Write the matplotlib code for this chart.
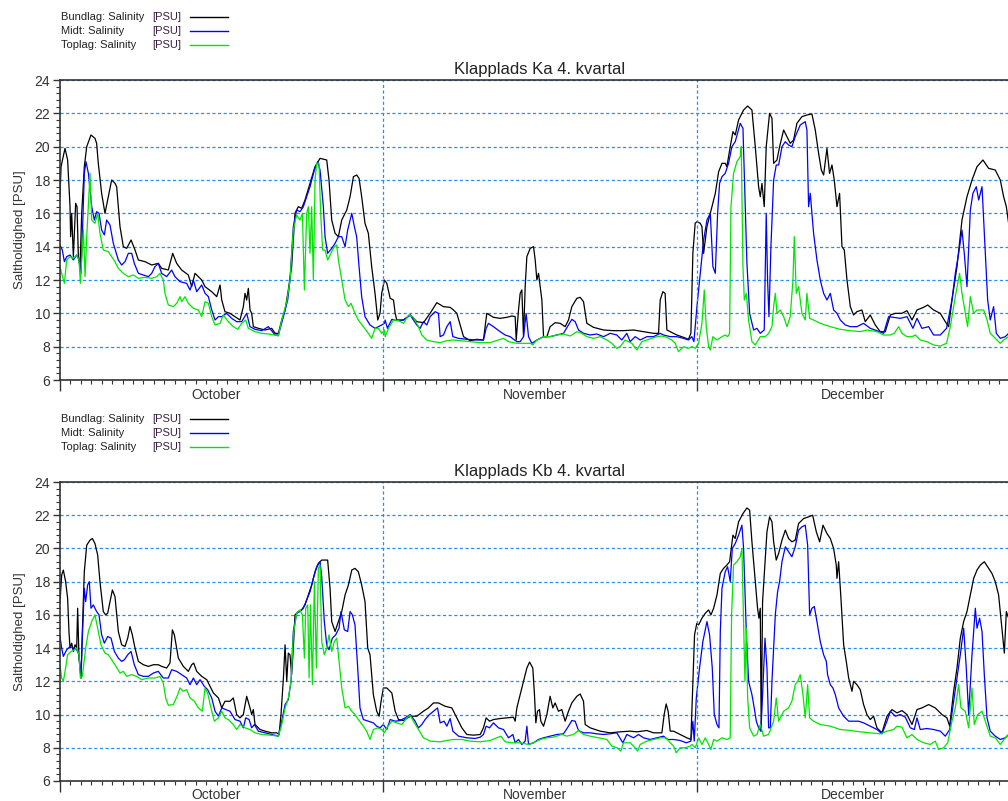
import numpy as np
import matplotlib
matplotlib.use("Agg")
import matplotlib.pyplot as plt
from matplotlib.lines import Line2D
from matplotlib.ticker import MultipleLocator, FixedLocator

plt.rcParams['font.family'] = ['Liberation Sans', 'DejaVu Sans']

# ---------- Data: (days since 1 Oct, salinity PSU) ----------
ka_bund = [(0.0,17.0),(0.10,18.8),(0.48,19.9),(0.73,19.2),(0.96,16.4),(1.02,14.6),(1.12,16.0),(1.28,13.4),(1.50,16.6),(1.63,16.4),(1.76,13.4),(1.92,12.8),(2.08,16.0),(2.33,18.8),(2.56,20.0),(2.97,20.7),(3.35,20.5),(3.51,20.2),(3.67,19.0),(3.99,17.2),(4.31,16.0),(4.63,17.0),(4.95,18.0),(5.27,17.8),(5.43,17.6),(5.75,15.2),(6.07,14.0),(6.39,13.9),(6.81,14.4),(7.19,13.8),(7.51,13.2),(8.15,13.1),(8.79,12.9),(9.42,13.0),(9.74,12.7),(10.38,12.6),(10.80,13.6),(11.18,13.0),(11.66,12.6),(12.30,12.3),(12.62,11.6),(12.94,12.4),(13.58,12.0),(13.90,11.6),(14.54,11.3),(15.02,11.0),(15.34,11.7),(15.50,10.8),(15.81,10.1),(16.29,10.0),(16.77,9.8),(17.25,9.6),(17.57,10.4),(17.73,11.2),(17.89,10.8),(18.05,11.5),(18.21,10.2),(18.37,10.0),(18.53,9.2),(19.01,9.1),(19.65,9.0),(20.29,9.1),(20.61,8.8),(20.93,8.8),(21.25,9.6),(21.57,10.2),(21.88,11.4),(22.20,12.8),(22.52,16.0),(22.84,16.4),(23.16,16.3),(23.48,16.8),(23.96,17.8),(24.44,18.8),(24.92,19.3),(25.56,19.2),(25.78,18.0),(26.04,15.6),(26.36,14.8),(26.68,14.6),(27.00,15.6),(27.48,16.2),(27.80,17.0),(28.12,18.2),(28.43,18.3),(28.66,18.1),(28.91,17.0),(29.23,15.4),(29.55,14.8),(29.87,12.8),(30.19,11.2),(30.45,9.6),(30.67,10.0),(30.83,11.2),(31.09,12.0),
           (31.32,11.8),(31.64,10.9),(31.96,10.8),(32.12,10.0),(32.28,9.6),(32.92,9.6),(33.56,9.9),(34.19,9.5),(34.83,9.44),(35.47,10.0),(36.11,10.64),(36.75,10.4),(37.39,10.36),(37.71,10.2),(38.03,10.0),(38.35,9.3),(38.67,8.6),(39.31,8.36),(39.95,8.44),(40.58,8.4),(40.90,10.0),(41.54,9.76),(42.18,9.7),(42.82,9.76),(43.30,9.84),(43.62,9.8),(43.72,8.4),(43.94,10.2),(44.10,11.2),(44.26,11.4),(44.42,8.6),(44.58,11.6),(44.74,13.4),(45.06,13.9),(45.38,14.0),(45.54,13.2),(45.70,12.0),(45.86,12.4),(46.02,11.6),(46.18,10.8),(46.34,8.6),(46.66,8.6),(46.97,9.2),(47.45,9.44),(47.93,9.4),(48.41,9.2),(48.73,9.6),(49.05,10.4),(49.53,10.9),(49.85,10.96),(50.17,10.7),(50.49,9.4),(51.13,9.16),(52.09,9.0),(53.04,8.96),(54.00,8.96),(54.96,9.0),(55.92,8.9),(56.88,8.8),(57.36,8.8),(57.52,10.8),(57.77,11.3),(57.99,11.2),(58.16,9.0),(58.48,8.9),(59.11,8.7),(59.75,8.56),(60.23,8.44),(60.46,8.8),(60.65,13.6),(60.87,15.4),
           (61.04,15.5),(61.36,15.4),(61.52,15.2),(61.68,13.6),(62.00,15.2),(62.32,16.0),(62.80,17.2),(63.12,18.5),(63.44,19.0),(63.75,19.0),(63.91,18.8),(64.23,20.0),(64.49,20.9),(64.71,20.7),(65.03,21.6),(65.51,22.2),(65.90,22.44),(66.31,22.2),(66.63,20.0),(66.95,17.6),(67.11,17.0),(67.27,17.8),(67.49,16.4),(67.68,20.0),(68.00,22.0),(68.23,21.7),(68.39,19.0),(68.71,19.2),(68.96,20.0),(69.35,21.0),(69.67,20.6),(69.98,20.2),(70.30,20.4),(70.62,21.4),(71.10,21.8),(71.58,21.9),(72.06,21.96),(72.38,21.0),(72.70,19.6),(72.96,18.6),(73.18,18.3),(73.50,19.9),(73.75,18.4),(73.98,18.9),(74.20,18.0),(74.46,16.4),(74.71,17.2),(74.94,14.0),(75.16,13.8),(75.42,12.0),(75.74,10.4),(76.05,9.9),(76.37,10.1),(76.85,10.2),(77.17,9.5),(77.65,9.9),(78.13,9.3),(78.61,8.9),(79.09,8.9),(79.57,9.9),(80.05,10.0),(80.69,10.0),(81.17,10.16),(81.65,9.6),(82.13,10.2),(82.76,10.36),(83.15,10.5),(83.72,10.2),(84.36,10.0),(84.84,9.5),(85.16,9.2),(85.48,10.8),(85.96,12.8),(86.44,15.6),(86.92,17.0),(87.40,18.0),(87.88,18.8),(88.45,19.2),(88.99,18.7),(89.63,18.6),(90.11,18.0),(90.43,17.0),(90.69,16.4),(90.91,15.4),(91.2,14.6)]

ka_midt = [(0.0,14.1),(0.22,13.8),(0.42,13.1),(0.64,13.4),(0.96,13.5),(1.28,13.2),(1.60,13.5),(1.82,13.2),(2.01,12.4),(2.14,14.6),(2.33,18.4),(2.49,19.1),(2.72,18.4),(2.88,17.4),(3.04,16.4),(3.29,15.6),(3.51,16.1),(3.74,16.0),(3.99,15.0),(4.25,14.7),(4.47,15.6),(4.79,15.3),(5.11,14.2),(5.59,13.2),(5.91,12.9),(6.23,13.1),(6.55,13.6),(6.87,13.6),(7.12,13.0),(7.51,12.4),(7.99,12.3),(8.47,12.2),(8.79,12.4),(9.10,12.8),(9.42,13.0),(9.74,12.4),(10.22,12.2),(10.70,12.6),(11.02,12.2),(11.50,11.9),(12.14,11.8),(12.46,11.4),(12.78,12.0),(13.10,11.3),(13.58,11.7),(13.90,11.2),(14.22,11.0),(14.54,10.2),(14.86,9.6),(15.18,9.8),(15.50,9.8),(15.97,10.0),(16.45,9.7),(16.93,9.5),(17.41,9.5),(17.89,10.0),(18.21,9.2),(18.69,9.04),(19.33,8.96),(19.97,9.2),(20.61,8.7),(20.93,8.7),(21.41,9.8),(21.82,10.8),(22.04,12.0),(22.36,15.2),(22.68,16.2),(23.00,16.1),(23.32,16.4),(23.64,17.0),(23.96,17.6),(24.38,18.6),(24.70,19.1),(24.92,18.6),(25.24,16.4),(25.40,14.6),(25.65,13.6),(26.04,13.9),(26.36,14.2),(26.68,14.6),(27.00,14.6),(27.32,14.0),(27.57,15.0),(27.96,16.0),(28.21,15.2),(28.43,14.6),(28.66,12.8),(28.91,11.0),(29.23,9.8),(29.71,9.3),(30.19,9.1),(30.51,9.2),(30.83,9.3),(31.09,9.4),
           (31.16,9.6),(31.38,9.1),(31.80,9.64),(32.28,9.56),(32.92,9.6),(33.56,9.9),(34.19,9.3),(34.51,9.1),(34.83,9.5),(35.15,9.3),(35.47,9.8),(35.95,10.1),(36.27,10.0),(36.43,8.6),(36.75,8.7),(37.07,9.2),(37.39,9.5),(37.65,8.6),(38.19,8.5),(38.99,8.44),(39.95,8.4),(40.58,8.4),(40.84,9.1),(41.06,9.4),(41.54,9.2),(42.18,8.9),(42.66,8.7),(43.14,8.6),(43.78,8.3),(44.10,8.3),(44.42,8.6),(44.67,10.0),(44.90,8.6),(45.22,8.2),(45.70,8.4),(46.34,8.6),(46.97,8.6),(47.61,8.7),(48.25,8.8),(48.73,9.3),(49.05,9.64),(49.37,9.5),(49.69,9.0),(50.17,8.8),(50.81,8.7),(51.45,8.76),(52.09,8.6),(52.72,8.8),(53.36,8.7),(53.84,8.4),(54.32,8.8),(54.64,8.3),(55.12,8.6),(55.60,8.4),(56.24,8.6),(56.88,8.6),(57.52,8.8),(57.84,8.7),(58.48,8.6),(59.11,8.6),(59.75,8.5),(60.23,8.4),(60.55,8.6),(60.75,8.3),
           (61.04,10.4),(61.36,12.4),(61.68,14.4),(62.00,15.6),(62.32,16.0),(62.57,12.8),(62.80,12.4),(63.02,16.0),(63.21,17.8),(63.44,18.2),(63.75,18.4),(64.07,19.0),(64.39,20.0),(64.71,20.3),(65.19,21.4),(65.45,21.1),(65.58,18.4),(65.83,13.0),(66.09,10.0),(66.47,9.0),(66.79,9.1),(67.11,8.8),(67.49,9.0),(67.68,16.0),(67.81,12.0),(67.94,9.8),(68.13,14.0),(68.39,18.0),(68.64,18.9),(68.87,18.9),(69.19,20.0),(69.51,20.3),(69.82,20.1),(70.14,20.0),(70.46,20.6),(70.94,21.3),(71.42,21.5),(71.58,21.0),(71.74,16.4),(71.90,17.2),(72.22,14.8),(72.54,13.2),(72.86,12.0),(73.18,11.2),(73.50,10.8),(73.82,11.2),(74.14,10.2),(74.46,10.0),(74.78,9.6),(75.26,9.3),(75.74,9.2),(76.37,9.2),(77.01,9.4),(77.65,9.1),(78.29,8.96),(78.93,8.8),(79.41,9.8),(79.89,9.76),(80.53,9.7),(81.17,9.8),(81.74,9.1),(82.13,9.7),(82.60,9.1),(83.24,9.2),(83.72,8.7),(84.36,8.7),(84.96,9.1),(85.48,10.8),(85.80,12.4),(86.12,13.6),(86.44,15.0),(86.66,13.6),(86.92,11.6),(87.24,16.2),(87.49,17.2),(87.81,17.6),(88.04,16.8),(88.36,17.6),(88.68,13.6),(88.90,10.8),(89.15,9.6),(89.47,10.4),(89.73,8.8),(90.11,8.5),(90.59,8.6),(90.91,8.8),(91.2,8.9)]

ka_top = [(0.0,12.8),(0.16,12.4),(0.42,11.8),(0.64,13.2),(0.96,13.4),(1.28,13.3),(1.60,13.5),(1.82,13.2),(1.95,11.8),(2.08,13.2),(2.24,15.0),(2.40,12.2),(2.56,14.6),(2.88,18.4),(3.04,15.6),(3.35,15.4),(3.61,16.0),(3.83,14.8),(4.15,13.8),(4.63,13.7),(4.95,13.4),(5.27,13.1),(5.59,12.7),(6.07,12.4),(6.55,12.2),(7.03,12.3),(7.51,12.1),(8.15,12.16),(8.79,12.1),(9.27,12.2),(9.58,12.4),(9.90,12.0),(10.06,11.2),(10.38,10.5),(10.86,10.4),(11.18,10.6),(11.50,11.0),(11.66,10.7),(11.98,11.0),(12.30,10.6),(12.78,10.3),(13.26,10.2),(13.58,9.8),(13.90,10.7),(14.22,10.6),(14.54,9.8),(14.86,9.3),(15.34,9.4),(15.65,9.9),(16.13,9.5),(16.61,9.2),(17.03,9.04),(17.41,9.4),(17.80,9.6),(18.05,9.1),(18.69,8.9),(19.33,8.8),(19.97,8.76),(20.61,8.7),(20.93,8.64),(21.25,9.6),(21.73,10.7),(22.04,12.0),(22.36,15.0),(22.68,15.9),(23.00,15.6),(23.23,16.0),(23.42,11.4),(23.64,16.0),(23.80,16.4),(23.96,13.6),(24.12,16.4),(24.28,12.0),(24.44,18.0),(24.60,19.0),(24.82,19.0),(24.98,16.0),(25.17,13.8),(25.40,13.8),(25.65,13.2),(25.97,13.6),(26.29,14.0),(26.52,14.1),(26.68,13.2),(27.00,12.0),(27.32,10.8),(27.64,10.4),(27.89,10.6),(28.27,10.0),(28.59,9.6),(29.07,9.2),(29.55,8.8),(29.87,8.5),(30.19,9.1),(30.51,9.1),(30.83,8.8),(31.09,9.0),
          (31.16,8.6),(31.48,9.1),(31.96,9.6),(32.44,9.56),(32.92,9.4),(33.40,9.9),(33.87,9.76),(34.35,9.2),(34.67,8.7),(35.15,8.4),(35.79,8.3),(36.43,8.24),(37.07,8.36),(37.71,8.4),(38.35,8.36),(39.31,8.3),(40.27,8.24),(41.22,8.24),(42.02,8.4),(42.50,8.5),(42.98,8.3),(43.78,8.2),(44.42,8.2),(45.06,8.2),(45.31,8.1),(45.70,8.4),(46.34,8.6),(46.97,8.6),(47.61,8.7),(48.25,8.76),(48.89,8.64),(49.53,8.9),(50.01,8.8),(50.49,8.6),(51.13,8.5),(51.77,8.6),(52.41,8.4),(52.88,8.2),(53.36,7.9),(53.68,8.0),(54.16,8.4),(54.80,8.2),(55.28,7.8),(55.76,8.3),(56.24,8.4),(56.72,8.5),(57.20,8.6),(57.68,8.64),(58.16,8.56),(58.64,8.4),(58.96,8.2),(59.27,7.7),(59.75,8.0),(60.23,7.9),(60.56,8.0),(60.88,7.9),
          (61.20,8.2),(61.52,9.4),(61.74,11.4),(61.93,9.2),(62.16,8.0),(62.32,7.8),(62.57,8.6),(62.96,8.4),(63.44,8.6),(63.75,8.7),(63.98,8.6),(64.17,8.8),(64.30,16.4),(64.55,18.4),(64.87,19.1),(65.19,19.4),(65.29,20.0),(65.45,12.8),(65.58,10.8),(65.77,11.2),(65.99,9.6),(66.31,8.3),(66.63,8.1),(67.11,8.6),(67.59,8.6),(67.91,8.8),(68.23,9.2),(68.39,10.4),(68.55,11.2),(68.71,10.0),(69.03,10.2),(69.35,9.8),(69.67,9.2),(69.98,9.8),(70.24,12.0),(70.37,14.6),(70.56,11.2),(70.78,11.6),(71.10,10.0),(71.42,9.6),(71.58,11.2),(71.84,9.7),(72.22,9.6),(72.86,9.4),(73.82,9.2),(74.78,9.04),(75.74,8.96),(76.69,8.9),(77.33,9.0),(78.29,8.9),(78.93,8.7),(79.57,8.7),(79.95,8.8),(80.37,9.2),(80.69,8.8),(81.17,8.6),(81.65,8.6),(81.97,8.7),(82.44,8.4),(83.08,8.3),(83.72,8.1),(84.36,8.04),(84.96,8.2),(85.32,9.2),(85.80,11.0),(86.21,12.4),(86.44,11.2),(86.76,10.0),(86.98,9.2),(87.24,11.0),(87.56,10.0),(87.88,10.2),(88.20,10.2),(88.52,10.2),(88.84,9.6),(89.15,8.8),(89.63,8.5),(90.11,8.2),(90.43,8.4),(90.91,8.6),(91.2,8.6)]

kb_bund = [(0.0,16.8),(0.16,18.4),(0.32,18.7),(0.54,18.0),(0.73,17.0),(0.86,15.0),(0.96,14.0),(1.12,14.3),(1.28,13.8),(1.44,14.2),(1.60,14.0),(1.69,16.4),(1.82,13.4),(2.01,12.2),(2.14,15.0),(2.33,18.6),(2.56,20.2),(2.88,20.5),(3.10,20.6),(3.35,20.3),(3.61,19.6),(3.83,18.0),(4.15,16.2),(4.38,16.0),(4.57,16.1),(4.79,16.8),(5.02,17.5),(5.27,17.1),(5.59,15.0),(5.91,14.2),(6.23,14.1),(6.49,14.6),(6.71,15.3),(6.93,14.8),(7.19,14.0),(7.51,13.2),(7.99,13.0),(8.47,12.9),(8.95,13.0),(9.42,13.0),(9.74,12.9),(10.22,12.8),(10.54,13.1),(10.77,15.1),(10.96,14.8),(11.34,13.4),(11.82,12.9),(12.30,12.6),(12.62,13.0),(12.81,13.1),(13.10,12.6),(13.58,12.3),(14.06,12.1),(14.38,11.7),(14.70,11.3),(15.18,11.0),(15.50,10.4),(15.81,10.8),(16.29,10.8),(16.61,11.0),(16.93,10.0),(17.25,9.8),(17.57,10.0),(17.89,11.1),(18.21,10.4),(18.37,10.0),(18.53,10.3),(18.69,9.4),(19.17,9.1),(19.65,9.0),(20.29,8.9),(20.77,8.9),(20.99,8.8),(21.18,10.0),(21.41,12.2),(21.57,14.2),(21.73,12.0),(21.88,13.7),(22.04,13.6),(22.20,12.4),(22.36,14.0),(22.52,16.0),(22.84,16.2),(23.16,16.3),(23.48,16.6),(23.80,17.2),(24.12,17.8),(24.44,18.6),(24.76,19.1),(25.08,19.3),(25.65,19.3),(25.88,17.6),(26.04,15.6),(26.36,15.0),(26.68,15.6),(27.00,16.2),(27.32,17.2),(27.64,17.8),(27.96,18.7),(28.27,18.8),(28.59,18.6),(28.91,17.8),(29.23,16.8),(29.49,14.0),(29.71,13.6),(30.03,11.2),(30.35,10.2),(30.58,9.9),(30.77,10.8),(30.99,11.6),
           (31.32,11.6),(31.80,11.3),(32.12,10.2),(32.44,9.7),(32.92,9.64),(33.56,9.9),(34.19,9.9),(34.83,10.2),(35.31,10.4),(35.79,10.7),(36.27,10.7),(36.91,10.5),(37.55,10.4),(38.03,9.8),(38.51,9.2),(38.99,8.8),(39.63,8.76),(40.27,8.8),(40.58,9.2),(40.84,9.8),(41.16,9.6),(41.54,9.7),(42.18,9.76),(42.82,9.8),(43.46,9.84),(43.62,9.6),(43.78,10.4),(44.10,11.2),(44.42,12.0),(44.74,12.8),(45.00,13.16),(45.31,12.8),(45.47,11.2),(45.60,9.5),(45.76,10.2),(45.95,10.3),(46.08,9.6),(46.34,9.3),(46.66,10.0),(46.97,11.1),(47.23,10.4),(47.45,10.7),(47.77,10.2),(48.09,10.3),(48.41,9.6),(48.73,10.2),(49.05,10.7),(49.53,11.1),(49.85,11.24),(50.17,10.8),(50.33,9.4),(50.81,9.2),(51.77,9.0),(52.72,8.9),(53.68,8.96),(54.64,9.0),(55.28,8.96),(56.24,9.04),(56.88,8.9),(57.68,8.9),(57.90,10.0),(58.09,10.64),(58.28,10.2),(58.48,9.0),(58.80,9.0),(59.43,8.8),(60.07,8.6),(60.46,8.5),(60.65,12.0),(60.81,14.8),
           (61.03,15.5),(61.20,15.4),(61.52,15.8),(61.84,16.1),(62.16,16.3),(62.38,16.0),(62.64,16.4),(62.96,17.2),(63.28,18.5),(63.59,18.8),(63.91,19.0),(64.17,19.2),(64.49,20.8),(64.71,20.6),(65.03,21.6),(65.45,22.1),(65.83,22.44),(66.09,22.3),(66.31,20.4),(66.63,18.0),(66.85,16.4),(66.98,15.8),(67.11,16.4),(67.20,9.0),(67.33,16.8),(67.49,18.4),(67.75,21.0),(68.00,21.9),(68.23,21.6),(68.39,20.4),(68.64,19.3),(68.87,19.7),(69.19,20.5),(69.51,21.1),(69.82,20.6),(70.14,20.4),(70.46,20.5),(70.78,21.5),(71.26,21.8),(71.74,21.9),(72.13,22.0),(72.48,21.0),(72.80,20.4),(73.12,21.4),(73.50,20.9),(73.82,20.6),(74.14,20.0),(74.39,19.0),(74.46,18.2),(74.62,19.2),(74.84,17.0),(75.10,14.2),(75.35,13.2),(75.58,12.2),(75.90,11.4),(76.05,12.0),(76.37,11.8),(76.69,11.5),(77.01,10.6),(77.33,10.0),(77.65,9.7),(77.97,9.9),(78.29,9.2),(78.77,8.9),(79.25,9.9),(79.73,10.3),(80.21,10.1),(80.69,10.24),(81.17,10.0),(81.65,9.4),(82.13,10.3),(82.60,10.4),(83.24,10.6),(83.88,10.4),(84.52,10.0),(85.00,9.8),(85.26,9.3),(85.64,11.4),(85.96,12.8),(86.28,14.6),(86.60,15.6),(86.92,16.2),(87.24,17.2),(87.56,18.2),(87.88,18.7),(88.20,19.0),(88.58,19.2),(88.99,18.8),(89.31,18.5),(89.63,18.0),(89.95,17.2),(90.27,15.2),(90.50,13.7),(90.69,16.2),(90.91,15.8),(91.2,15.6)]

kb_midt = [(0.0,14.7),(0.16,14.0),(0.32,13.5),(0.64,13.9),(0.96,14.1),(1.28,14.0),(1.60,13.9),(1.82,13.6),(2.01,12.2),(2.14,14.6),(2.33,17.6),(2.46,16.8),(2.65,17.8),(2.81,18.0),(2.97,16.4),(3.19,16.6),(3.51,16.2),(3.74,16.0),(3.99,14.8),(4.25,14.3),(4.57,14.7),(4.89,14.6),(5.21,13.8),(5.59,13.4),(5.91,13.2),(6.17,13.3),(6.49,13.6),(6.81,13.8),(7.12,13.0),(7.51,12.4),(7.99,12.3),(8.47,12.3),(8.95,12.5),(9.42,12.6),(9.90,12.2),(10.38,12.2),(10.70,12.7),(11.18,12.6),(11.66,12.4),(12.14,12.2),(12.46,11.8),(12.78,12.2),(13.10,11.8),(13.42,12.1),(13.83,11.7),(14.15,11.5),(14.54,11.0),(14.86,10.2),(15.18,9.9),(15.50,10.4),(15.88,10.3),(16.29,10.2),(16.77,9.7),(17.25,9.6),(17.57,9.2),(17.80,9.8),(18.12,9.7),(18.37,9.2),(18.63,9.4),(19.01,9.0),(19.65,8.9),(20.29,8.8),(20.93,8.7),(21.25,9.6),(21.57,10.6),(21.88,10.9),(22.14,12.0),(22.36,15.0),(22.68,16.1),(23.00,16.2),(23.32,16.4),(23.64,16.9),(23.96,17.4),(24.28,18.2),(24.60,18.9),(24.92,19.2),(25.08,18.3),(25.33,15.6),(25.56,14.2),(25.78,13.9),(26.10,14.6),(26.42,14.8),(26.74,15.2),(26.93,16.2),(27.25,15.1),(27.57,15.0),(27.80,16.2),(28.02,16.0),(28.27,15.4),(28.53,12.8),(28.75,10.4),(29.07,9.7),(29.55,9.6),(30.03,9.5),(30.35,9.3),(30.67,9.2),(30.99,9.4),
           (31.32,9.1),(31.64,9.7),(32.12,9.6),(32.60,9.64),(33.08,9.8),(33.56,10.0),(34.03,9.6),(34.35,9.2),(34.67,9.4),(34.99,9.7),(35.41,10.0),(35.79,10.2),(36.18,10.4),(36.43,9.5),(36.81,9.6),(37.07,9.3),(37.39,9.76),(37.65,9.0),(38.19,8.7),(38.99,8.6),(39.79,8.56),(40.27,8.64),(40.58,8.8),(40.84,9.3),(41.16,9.2),(41.54,9.5),(42.02,9.2),(42.50,9.1),(42.98,8.6),(43.40,8.8),(43.62,8.3),(43.94,8.5),(44.26,8.2),(44.58,8.4),(44.74,9.3),(44.90,8.2),(45.38,8.3),(45.86,8.5),(46.34,8.6),(46.97,8.7),(47.61,8.8),(48.25,8.84),(48.73,9.3),(49.05,9.64),(49.37,9.6),(49.69,9.04),(50.17,8.9),(50.81,8.9),(51.45,8.84),(52.09,8.8),(52.72,8.84),(53.36,8.9),(53.94,8.3),(54.32,8.8),(54.96,8.6),(55.44,8.8),(55.92,8.6),(56.56,8.5),(57.20,8.6),(57.84,8.7),(58.22,8.5),(58.80,8.5),(59.43,8.44),(60.01,8.3),(60.46,8.4),(60.65,9.6),(60.78,8.4),
           (60.98,11.0),(61.29,12.8),(61.61,14.4),(62.00,15.6),(62.25,14.8),(62.51,12.8),(62.70,10.0),(62.96,9.4),(63.15,9.2),(63.28,15.0),(63.44,17.6),(63.75,18.6),(63.98,18.9),(64.23,18.0),(64.43,20.0),(64.71,20.3),(65.03,20.8),(65.35,21.4),(65.51,20.0),(65.77,15.0),(65.99,12.0),(66.31,11.2),(66.53,10.4),(66.73,9.6),(66.95,9.2),(67.17,9.0),(67.36,11.6),(67.56,14.6),(67.75,12.8),(67.91,9.2),(68.07,9.2),(68.23,12.0),(68.55,16.0),(68.77,17.4),(68.96,18.0),(69.19,19.2),(69.51,20.1),(69.82,19.8),(70.14,19.5),(70.46,20.1),(70.78,21.1),(71.10,21.3),(71.42,21.4),(71.65,20.2),(71.84,16.0),(72.06,16.4),(72.29,16.5),(72.54,15.6),(72.86,14.4),(73.18,13.6),(73.44,13.2),(73.56,12.4),(73.82,11.8),(74.07,11.6),(74.30,11.2),(74.62,10.4),(75.10,9.9),(75.58,9.6),(76.05,9.6),(76.53,9.6),(77.01,9.5),(77.65,9.3),(78.29,9.1),(78.77,8.84),(79.25,9.6),(79.57,10.2),(80.05,9.9),(80.53,10.0),(81.01,9.84),(81.49,9.2),(81.87,9.1),(82.13,9.8),(82.44,9.1),(83.08,9.16),(83.72,9.1),(84.36,9.0),(84.84,8.7),(85.26,9.1),(85.64,10.8),(85.96,12.2),(86.28,13.6),(86.60,15.2),(86.85,12.8),(87.08,10.0),(87.40,13.6),(87.72,16.4),(87.88,15.2),(88.13,15.8),(88.36,15.0),(88.58,12.4),(88.84,9.8),(89.15,9.0),(89.63,8.7),(90.11,8.5),(90.59,8.6),(90.91,8.8),(91.2,8.8)]

kb_top = [(0.0,13.0),(0.16,12.2),(0.32,12.0),(0.54,12.8),(0.73,13.6),(1.05,13.8),(1.37,13.9),(1.60,14.0),(1.82,13.6),(1.95,12.2),(2.14,12.3),(2.46,14.0),(2.72,15.0),(3.04,15.6),(3.35,16.0),(3.61,15.2),(3.93,14.2),(4.31,13.7),(4.63,13.6),(4.95,13.3),(5.27,13.0),(5.75,12.5),(6.07,12.6),(6.39,12.3),(6.87,12.4),(7.35,12.3),(7.83,12.1),(8.47,12.2),(9.10,12.2),(9.58,12.3),(9.90,11.9),(10.13,11.0),(10.38,10.56),(10.86,10.6),(11.28,11.2),(11.50,11.6),(11.82,11.4),(12.14,11.5),(12.46,11.0),(12.88,10.8),(13.26,10.4),(13.64,10.2),(13.90,11.6),(14.15,11.3),(14.47,10.4),(14.79,9.6),(15.18,9.8),(15.50,10.2),(15.81,9.8),(16.13,9.7),(16.61,9.4),(16.93,9.1),(17.25,9.4),(17.73,9.2),(18.21,9.1),(18.69,8.9),(19.33,8.8),(20.13,8.76),(20.93,8.7),(21.25,9.4),(21.57,10.4),(21.88,11.0),(22.14,12.0),(22.36,14.8),(22.68,16.1),(23.00,16.3),(23.23,16.0),(23.42,13.4),(23.55,16.4),(23.74,16.6),(23.87,12.2),(24.00,16.6),(24.19,11.8),(24.38,18.0),(24.57,12.8),(24.76,18.8),(24.92,19.0),(25.08,14.4),(25.33,13.6),(25.56,14.0),(25.78,14.8),(26.04,13.8),(26.29,14.4),(26.52,14.6),(26.74,13.2),(27.00,11.6),(27.32,10.4),(27.64,10.5),(27.96,10.2),(28.27,10.0),(28.59,9.7),(29.07,9.3),(29.39,9.0),(29.71,8.5),(30.03,9.1),(30.45,9.2),(30.83,9.1),(31.09,8.9),
          (31.32,9.2),(31.80,9.6),(32.28,9.5),(32.76,9.4),(33.24,9.8),(33.56,9.96),(33.87,9.6),(34.35,9.1),(34.83,8.6),(35.47,8.4),(36.43,8.36),(37.07,8.44),(37.71,8.5),(38.51,8.5),(39.31,8.4),(40.27,8.36),(41.22,8.44),(41.86,8.6),(42.25,8.7),(42.66,8.36),(43.30,8.3),(44.10,8.3),(44.90,8.2),(45.38,8.3),(46.02,8.5),(46.66,8.6),(47.29,8.64),(48.09,8.8),(48.57,8.7),(49.21,8.8),(49.69,9.04),(50.17,8.8),(50.81,8.7),(51.61,8.6),(52.41,8.5),(52.88,8.1),(53.36,8.0),(53.75,7.8),(54.00,8.3),(54.64,8.3),(55.12,8.0),(55.35,7.8),(55.60,8.2),(56.24,8.4),(56.88,8.5),(57.52,8.6),(58.09,8.6),(58.48,8.3),(58.80,8.1),(59.05,7.7),(59.43,8.0),(59.91,8.0),(60.39,8.1),(60.56,8.2),(60.88,8.0),
          (61.20,8.6),(61.52,8.2),(61.84,8.6),(62.16,8.2),(62.38,7.9),(62.64,8.5),(62.96,8.4),(63.44,8.6),(63.91,8.5),(64.23,8.6),(64.36,16.0),(64.55,19.0),(64.87,19.2),(65.19,19.5),(65.35,20.0),(65.51,15.6),(65.64,12.0),(65.77,15.2),(65.90,11.0),(66.09,9.2),(66.47,8.7),(66.79,8.8),(67.11,9.4),(67.43,8.7),(67.91,8.8),(68.39,9.6),(68.64,11.0),(68.87,9.6),(69.35,10.2),(69.82,10.4),(70.14,10.8),(70.46,11.8),(70.69,12.0),(70.94,12.4),(71.20,11.2),(71.42,9.8),(71.65,11.8),(71.84,9.8),(72.22,9.6),(72.86,9.4),(73.82,9.3),(74.78,9.1),(75.74,9.04),(76.69,8.96),(77.65,8.9),(78.61,8.84),(79.25,9.0),(79.89,9.1),(80.21,9.3),(80.69,9.24),(81.17,8.6),(81.65,8.8),(82.13,8.5),(82.76,8.3),(83.40,8.2),(83.88,8.4),(84.20,7.9),(84.68,8.0),(85.07,8.3),(85.48,9.6),(85.80,10.4),(86.12,11.8),(86.34,10.4),(86.76,10.2),(87.08,9.2),(87.40,11.6),(87.62,9.4),(87.94,10.0),(88.36,10.2),(88.68,9.6),(89.15,8.7),(89.63,8.6),(90.11,8.2),(90.59,8.6),(90.91,8.8),(91.2,8.8)]

panels = [
    ("Klapplads Ka 4. kvartal", ka_bund, ka_midt, ka_top),
    ("Klapplads Kb 4. kvartal", kb_bund, kb_midt, kb_top),
]
month_starts = [0, 31, 61, 92]
month_names = ["October", "November", "December"]
legend_labels = ["Bundlag: Salinity", "Midt: Salinity", "Toplag: Salinity"]
line_colors = ["black", "#0000ff", "#00e600"]
grid_color = "#1e8fff"

# ---------- Figure ----------
W, H = 1008, 801
fig = plt.figure(figsize=(W / 100, H / 100), dpi=100)

# axes boxes in pixels: (left, top, bottom)
boxes = [(60, 80, 380), (60, 482, 781)]
legend_tops = [17, 419]

for (title, bund, midt, top), (lx, ty, by), leg_y in zip(panels, boxes, legend_tops):
    ax = fig.add_axes([lx / W, 1 - by / H, 960 / W, (by - ty) / H])
    for series, col in zip([bund, midt, top], line_colors):
        t, v = np.array(series).T
        ax.plot(t, v, color=col, lw=0.9)

    ax.set_xlim(0, 92)
    ax.set_ylim(6, 24)
    ax.set_title(title, fontsize=12, pad=4, color="#222222")
    ax.set_ylabel("Saltholdighed [PSU]", fontsize=9.5, color="#333333", labelpad=6)

    ax.yaxis.set_major_locator(MultipleLocator(2))
    ax.yaxis.set_minor_locator(MultipleLocator(0.4))
    ax.xaxis.set_major_locator(FixedLocator(month_starts))
    ax.xaxis.set_minor_locator(MultipleLocator(1))
    ax.set_xticklabels([])
    ax.tick_params(axis="y", which="major", length=5, width=1, labelsize=10,
                   colors="#333333", pad=2)
    ax.tick_params(axis="y", which="minor", length=3, width=0.8, color="#333333")
    ax.tick_params(axis="x", which="major", length=8, width=1, color="#333333")
    ax.tick_params(axis="x", which="minor", length=3, width=0.8, color="#333333")

    ax.grid(axis="y", which="major", color=grid_color, ls=(0, (2.5, 2)), lw=0.9)
    for m in month_starts[1:3]:
        ax.axvline(m, color=grid_color, ls=(0, (2.5, 2)), lw=0.9)

    for s in ["left", "top", "bottom"]:
        ax.spines[s].set_color("#333333")
        ax.spines[s].set_linewidth(1.2)
    ax.spines["right"].set_visible(False)

    for i, name in enumerate(month_names):
        mid = (month_starts[i] + month_starts[i + 1]) / 2 - 0.5
        ax.text(mid, -0.025, name, transform=ax.get_xaxis_transform(),
                ha="center", va="top", fontsize=10, color="#333333")

    # legend block above the axes
    for k, (lab, col) in enumerate(zip(legend_labels, line_colors)):
        yy = 1 - (leg_y + 14 * k) / H
        fig.text(61 / W, yy, lab, fontsize=8, va="center", ha="left", color="#222222")
        fig.text(152 / W, yy, "[PSU]", fontsize=8, va="center", ha="left", color="#3a2040")
        fig.add_artist(Line2D([190 / W, 228 / W], [yy, yy], color=col, lw=1,
                              transform=fig.transFigure))

fig.savefig("out.png", dpi=100, facecolor="white")
